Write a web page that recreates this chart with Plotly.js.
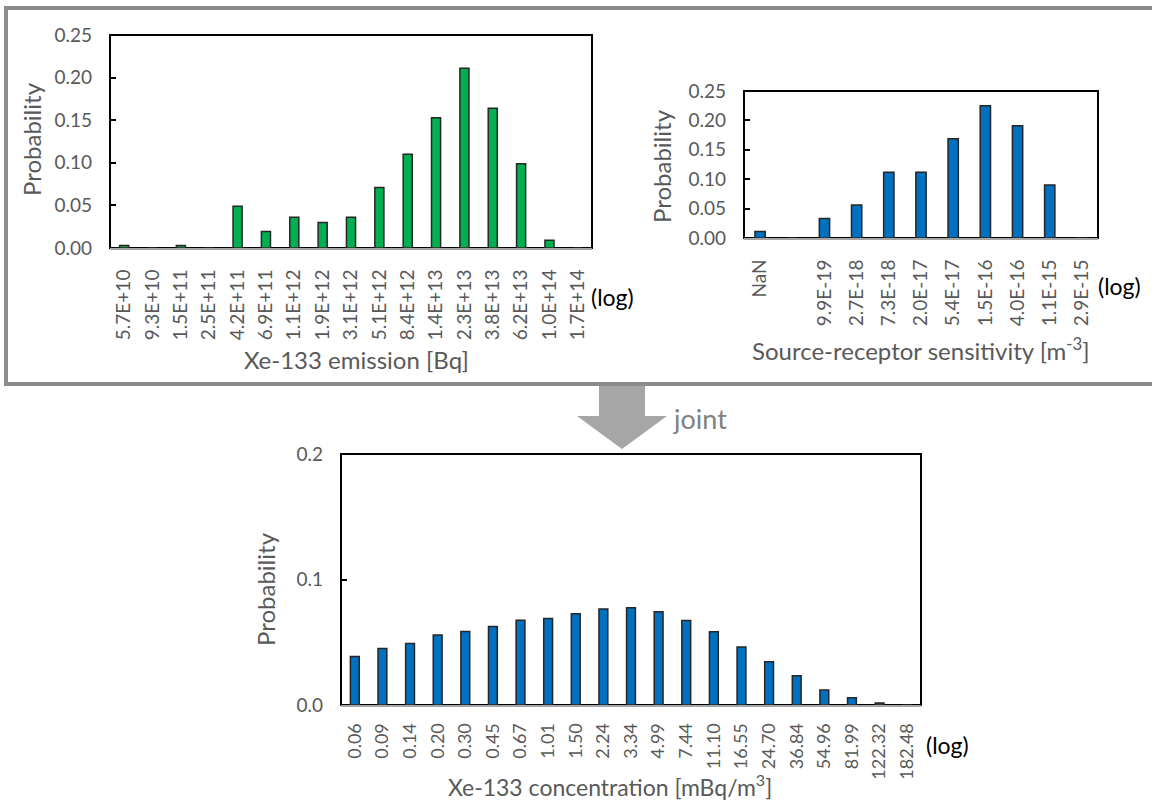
<!DOCTYPE html>
<html>
<head>
<meta charset="utf-8">
<script src="https://cdn.plot.ly/plotly-3.0.1.min.js"></script>
<style>html,body{margin:0;padding:0;background:#fff;}#chart{width:1152px;height:803px;}</style>
</head>
<body>
<div id="chart"></div>
<script>
// ---- Data ----
const emissionLabels = ["5.7E+10","9.3E+10","1.5E+11","2.5E+11","4.2E+11","6.9E+11","1.1E+12","1.9E+12","3.1E+12","5.1E+12","8.4E+12","1.4E+13","2.3E+13","3.8E+13","6.2E+13","1.0E+14","1.7E+14"];
const emissionProb = [0.003,0,0.003,0,0.049,0.0195,0.036,0.030,0.036,0.071,0.110,0.153,0.211,0.164,0.099,0.009,0];

const srsLabels = ["NaN"," ","9.9E-19","2.7E-18","7.3E-18","2.0E-17","5.4E-17","1.5E-16","4.0E-16","1.1E-15","2.9E-15"];
const srsProb = [0.011,0,0.033,0.056,0.112,0.112,0.169,0.225,0.191,0.090,0];

const concLabels = ["0.06","0.09","0.14","0.20","0.30","0.45","0.67","1.01","1.50","2.24","3.34","4.99","7.44","11.10","16.55","24.70","36.84","54.96","81.99","122.32","182.48"];
const concProb = [0.0387,0.0451,0.0491,0.0557,0.0586,0.0626,0.0676,0.0690,0.0727,0.0764,0.0775,0.0743,0.0674,0.0584,0.0462,0.0345,0.0233,0.0119,0.0058,0.0016,0];

// ---- Helpers (page pixels -> paper fractions) ----
const W = 1152, H = 803;
const px = x => x / W;
const py = y => 1 - y / H;
const FONT = "Lato, 'Noto Sans', sans-serif";
const GREY = "#595959";

function barTrace(x, y, color, xa, ya) {
  return {type: "bar", x: x, y: y, xaxis: xa, yaxis: ya, width: 0.32,
    marker: {color: color, line: {color: "#262626", width: 1.5}},
    hoverinfo: "x+y"};
}

const data = [
  barTrace(emissionLabels, emissionProb, "#00b050", "x", "y"),
  barTrace(srsLabels, srsProb, "#0070c0", "x2", "y2"),
  barTrace(concLabels, concProb, "#0070c0", "x3", "y3")
];

function xAxis(domain, anchor, cats, fsize, standoff) {
  const shown = cats.filter(c => c.trim() !== "");
  return {domain: domain, anchor: anchor, type: "category", categoryorder: "array", categoryarray: cats,
    tickmode: "array", tickvals: shown, ticktext: shown,
    tickangle: -90, tickfont: {family: FONT, size: fsize, color: GREY},
    showline: true, linecolor: "#a6a6a6", linewidth: 2, ticks: "", showgrid: false, zeroline: false,
    ticklabelstandoff: standoff, fixedrange: true};
}
function yAxis(domain, anchor, range, dtick, fmt) {
  return {domain: domain, anchor: anchor, range: range, dtick: dtick, tickformat: fmt,
    tickfont: {family: FONT, size: 19, color: GREY},
    ticks: "inside", ticklen: 6, tickwidth: 2, tickcolor: "#000",
    showline: false, showgrid: false, zeroline: false, ticklabelstandoff: 17, fixedrange: true};
}

const box = (xa, ya) => ({type: "rect", xref: xa + " domain", yref: ya + " domain", x0: 0, x1: 1, y0: 0, y1: 1,
  line: {color: "#000", width: 2}, layer: "below"});

function arrowPath() {
  const pts = [[599,386],[645,386],[645,416],[667,416],[622,449],[577,416],[599,416]];
  return "M" + pts.map(p => px(p[0]).toFixed(5) + "," + py(p[1]).toFixed(5)).join(" L") + " Z";
}

function ann(text, x, y, opts) {
  return Object.assign({text: text, x: px(x), y: py(y), xref: "paper", yref: "paper", showarrow: false,
    font: {family: FONT, size: 24, color: GREY}, xanchor: "center", yanchor: "middle", borderpad: 0}, opts || {});
}
const LOGFONT = {family: FONT, size: 23, color: "#000"};

const layout = {
  width: W, height: H, margin: {l: 0, r: 0, t: 0, b: 0},
  paper_bgcolor: "#fff", plot_bgcolor: "rgba(0,0,0,0)", showlegend: false,
  xaxis: xAxis([px(110), px(592)], "y", emissionLabels, 19, 12),
  yaxis: yAxis([py(248), py(35)], "x", [0, 0.25], 0.05, ".2f"),
  xaxis2: xAxis([px(744), px(1098)], "y2", srsLabels, 19, 12),
  yaxis2: yAxis([py(238), py(91)], "x2", [0, 0.25], 0.05, ".2f"),
  xaxis3: xAxis([px(341), px(921)], "y3", concLabels, 18, 9),
  yaxis3: yAxis([py(705), py(454)], "x3", [0, 0.2], 0.1, ".1f"),
  shapes: [
    box("x", "y"), box("x2", "y2"), box("x3", "y3"),
    {type: "rect", xref: "paper", yref: "paper", x0: px(6), x1: px(1155), y0: py(384), y1: py(8),
      line: {color: "#8c8c8c", width: 4}},
    {type: "path", xref: "paper", yref: "paper", path: arrowPath(), fillcolor: "#a6a6a6", line: {width: 0}}
  ],
  annotations: [
    ann("Probability", 31, 139, {textangle: -90}),
    ann("Xe-133 emission [Bq]", 356, 359),
    ann("(log)", 590, 297, {xanchor: "left", font: LOGFONT}),
    ann("Probability", 662, 166, {textangle: -90}),
    ann("Source-receptor sensitivity [m<sup>-3</sup>]", 921, 349),
    ann("(log)", 1097, 286, {xanchor: "left", font: LOGFONT}),
    ann("Probability", 265, 589, {textangle: -90}),
    ann("Xe-133 concentration [mBq/m<sup>3</sup>]", 610, 785, {font: {family: FONT, size: 23, color: GREY}}),
    ann("(log)", 925, 745, {xanchor: "left", font: LOGFONT}),
    ann("joint", 672, 418, {xanchor: "left", font: {family: FONT, size: 27, color: "#808080"}})
  ]
};

Plotly.newPlot("chart", data, layout, {displayModeBar: false});
</script>
</body>
</html>
